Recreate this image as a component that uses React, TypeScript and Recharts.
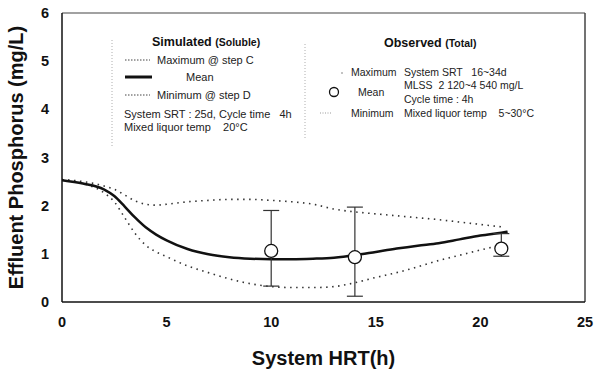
import {
  ComposedChart,
  Line,
  Scatter,
  ErrorBar,
  XAxis,
  YAxis,
  ReferenceLine,
} from "recharts";

// simulated soluble P (mg/L) vs system HRT (h)
const hrt = [0, 1, 2, 2.5, 3, 3.5, 4, 4.5, 5, 6, 7, 8, 9, 10, 11, 12, 13, 14, 15, 16, 17, 18, 19, 20, 21, 21.3];
const simMean = [2.53, 2.46, 2.34, 2.2, 1.98, 1.75, 1.55, 1.40, 1.28, 1.10, 0.99, 0.93, 0.90, 0.89, 0.89, 0.90, 0.92, 0.97, 1.04, 1.11, 1.17, 1.22, 1.30, 1.38, 1.44, 1.46];
const simMax = [2.54, 2.5, 2.41, 2.34, 2.22, 2.1, 2.03, 2.01, 2.03, 2.08, 2.11, 2.13, 2.13, 2.11, 2.08, 2.03, 1.93, 1.87, 1.83, 1.79, 1.75, 1.71, 1.66, 1.61, 1.56, null];
const simMin = [2.54, 2.46, 2.27, 2.08, 1.75, 1.42, 1.18, 1.04, 0.94, 0.75, 0.61, 0.48, 0.38, 0.32, 0.3, 0.3, 0.32, 0.4, 0.51, 0.61, 0.73, 0.86, 0.97, 1.08, 1.18, null];

// observed total P
const obsHrt = [10, 14, 21];
const obsMean = [1.06, 0.93, 1.11];
const obsMax = [1.9, 1.97, 1.42];
const obsMin = [0.33, 0.12, 0.95];

const xTicks = [0, 5, 10, 15, 20, 25];
const yTicks = [0, 1, 2, 3, 4, 5, 6];

const simData = hrt.map((x, i) => ({
  x,
  mean: simMean[i],
  max: simMax[i],
  min: simMin[i],
}));

const obsData = obsHrt.map((x, i) => ({
  x,
  y: obsMean[i],
  err: [obsMean[i] - obsMin[i], obsMax[i] - obsMean[i]],
}));

const FONT = "Arial, 'Liberation Sans', sans-serif";
const tickStyle = { fontSize: 14.5, fontWeight: 700, fill: "#111", fontFamily: FONT };
const titleStyle = { fontSize: 20, fontWeight: 700, fill: "#111", fontFamily: FONT };

const OpenCircle = (props: any) => (
  <circle cx={props.cx} cy={props.cy} r={6.5} fill="#fff" stroke="#111" strokeWidth={1.3} />
);

function Legends() {
  const t = { fontFamily: FONT, fontSize: 11, fill: "#222", style: { whiteSpace: "pre" as const } };
  const o = { ...t, fontSize: 10.5 };
  return (
    <svg
      width={594}
      height={378}
      style={{ position: "absolute", left: 0, top: 0, pointerEvents: "none" }}
    >
      {/* simulated box */}
      <line x1={112} y1={40} x2={112} y2={146} stroke="#999" strokeWidth={0.8} strokeDasharray="1 2" />
      <line x1={305} y1={44} x2={305} y2={140} stroke="#999" strokeWidth={0.8} strokeDasharray="1 2" />
      <text x={152} y={46} fontFamily={FONT} fontSize={12.5} fontWeight={700} fill="#111">
        Simulated <tspan fontSize={10.5}>(Soluble)</tspan>
      </text>
      <line x1={125} y1={60} x2={150} y2={60} stroke="#444" strokeWidth={1} strokeDasharray="1.5 1.5" />
      <text x={157} y={64} {...t}>Maximum @ step C</text>
      <line x1={125} y1={77} x2={152} y2={77} stroke="#111" strokeWidth={3} />
      <text x={186} y={81} {...t}>Mean</text>
      <line x1={125} y1={95} x2={150} y2={95} stroke="#444" strokeWidth={1} strokeDasharray="1.5 1.5" />
      <text x={157} y={99} {...t}>Minimum @ step D</text>
      <text x={124} y={118} {...t}>System SRT : 25d, Cycle time   4h</text>
      <text x={124} y={131} {...t}>Mixed liquor temp    20°C</text>

      {/* observed */}
      <text x={384} y={47} fontFamily={FONT} fontSize={12.5} fontWeight={700} fill="#111">
        Observed <tspan fontSize={10.5}>(Total)</tspan>
      </text>
      <circle cx={342} cy={73} r={0.8} fill="#777" />
      <text x={351} y={76} {...o}>Maximum</text>
      <text x={404} y={76} {...o}>System SRT   16~34d</text>
      <text x={404} y={89} {...o}>MLSS  2 120~4 540 mg/L</text>
      <circle cx={334} cy={92} r={4.5} fill="#fff" stroke="#111" strokeWidth={1.3} />
      <text x={358} y={96} {...o}>Mean</text>
      <text x={404} y={103} {...o}>Cycle time : 4h</text>
      <line x1={320} y1={113} x2={331} y2={113} stroke="#999" strokeWidth={1} strokeDasharray="1 1.5" />
      <text x={351} y={117} {...o}>Minimum</text>
      <text x={404} y={117} {...o}>Mixed liquor temp    5~30°C</text>
    </svg>
  );
}

export default function App() {
  return (
    <div style={{ position: "absolute", left: 0, top: 0, width: 594, height: 378, background: "#fff" }}>
      <ComposedChart
        width={594}
        height={378}
        margin={{ top: 13, right: 9, left: 0, bottom: 0 }}
      >
        <XAxis
          type="number"
          dataKey="x"
          domain={[0, 25]}
          ticks={xTicks}
          tickLine={false}
          axisLine={{ stroke: "#111", strokeWidth: 1.5 }}
          tick={tickStyle}
          tickMargin={9}
          height={76}
          allowDataOverflow
          label={{
            value: "System HRT(h)",
            position: "insideBottom",
            offset: 13,
            style: titleStyle,
          }}
        />
        <YAxis
          type="number"
          domain={[0, 6]}
          ticks={yTicks}
          tickLine={false}
          axisLine={{ stroke: "#111", strokeWidth: 1.5 }}
          tick={tickStyle}
          tickMargin={7}
          width={62}
          label={{
            value: "Effluent Phosphorus (mg/L)",
            angle: -90,
            position: "insideLeft",
            offset: 16,
            style: { ...titleStyle, textAnchor: "middle" },
          }}
        />
        <ReferenceLine y={6} stroke="#444" strokeWidth={1.2} />
        <ReferenceLine x={25} stroke="#444" strokeWidth={1.5} />
        <Line
          data={simData}
          dataKey="max"
          type="monotone"
          stroke="#333"
          strokeWidth={1.6}
          strokeDasharray="1.5 4.5"
          dot={false}
          isAnimationActive={false}
        />
        <Line
          data={simData}
          dataKey="min"
          type="monotone"
          stroke="#333"
          strokeWidth={1.6}
          strokeDasharray="1.5 4.5"
          dot={false}
          isAnimationActive={false}
        />
        <Line
          data={simData}
          dataKey="mean"
          type="monotone"
          stroke="#111"
          strokeWidth={2.5}
          dot={false}
          isAnimationActive={false}
        />
        <Scatter data={obsData} dataKey="y" shape={OpenCircle} isAnimationActive={false}>
          <ErrorBar dataKey="err" direction="y" width={8} stroke="#333" strokeWidth={1.2} />
        </Scatter>
      </ComposedChart>
      <Legends />
    </div>
  );
}
